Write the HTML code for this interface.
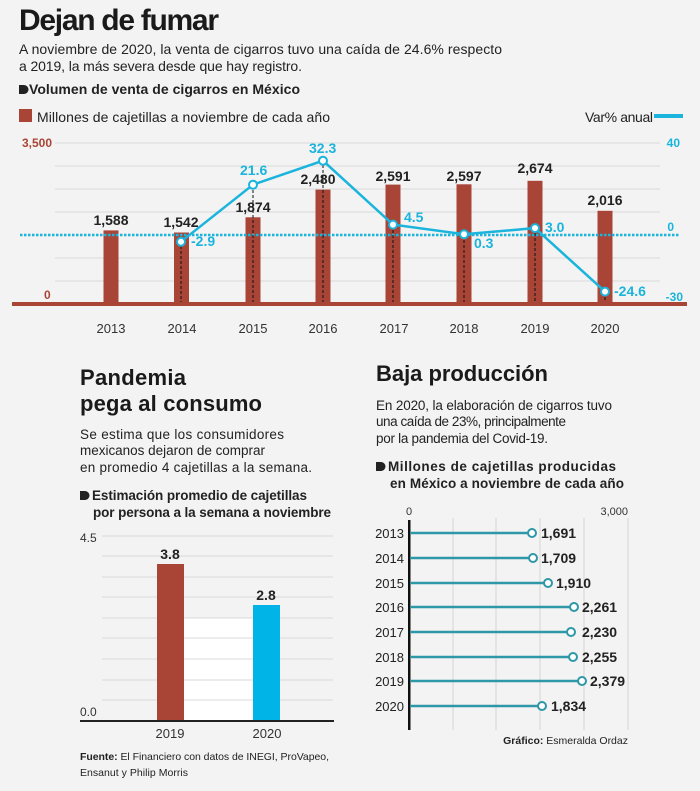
<!DOCTYPE html>
<html><head><meta charset="utf-8"><style>
body{margin:0;background:#f3f3f3}
svg{display:block;font-family:"Liberation Sans",sans-serif}
.b{font-weight:bold}
</style></head><body>
<svg width="700" height="791" viewBox="0 0 700 791" xmlns="http://www.w3.org/2000/svg">
<rect width="700" height="791" fill="#f3f3f3"/>
<text x="19" y="30" font-size="30" class="b" fill="#1a1a1a" textLength="200">Dejan de fumar</text>
<text x="19" y="54" font-size="14" fill="#222" textLength="483">A noviembre de 2020, la venta de cigarros tuvo una caída de 24.6% respecto</text>
<text x="19" y="71" font-size="14" fill="#222" textLength="283">a 2019, la más severa desde que hay registro.</text>
<path d="M19 85h5a4 4 0 0 1 0 9h-5z" fill="#222"/>
<text x="29" y="94" font-size="14" class="b" fill="#222" textLength="271">Volumen de venta de cigarros en México</text>
<rect x="19" y="109" width="13" height="13" fill="#a94536"/>
<text x="37" y="122" font-size="14" fill="#222" textLength="293">Millones de cajetillas a noviembre de cada año</text>
<text x="585" y="122" font-size="14" fill="#222" textLength="68">Var% anual</text>
<rect x="654" y="114" width="29" height="4" fill="#1ab4dc"/>
<g stroke="#d8d8d8" stroke-width="1">
<line x1="55" x2="660" y1="143" y2="143"/><line x1="55" x2="660" y1="166" y2="166"/><line x1="55" x2="660" y1="189" y2="189"/><line x1="55" x2="660" y1="212" y2="212"/><line x1="55" x2="660" y1="258" y2="258"/><line x1="55" x2="660" y1="281" y2="281"/>
</g>
<text x="22" y="147" font-size="12" class="b" fill="#a94536">3,500</text>
<text x="44" y="299" font-size="12" class="b" fill="#a94536">0</text>
<g font-size="12" class="b" fill="#1ab4dc" text-anchor="end">
<text x="680" y="147">40</text>
<text x="674" y="231">0</text>
<text x="683" y="301">-30</text>
</g>
<g fill="#a94536">
<rect x="103.5" y="230.4" width="15" height="72.6"/>
<rect x="174" y="232.5" width="15" height="70.5"/>
<rect x="245.5" y="217.3" width="15" height="85.7"/>
<rect x="315.5" y="189.6" width="15" height="113.4"/>
<rect x="385.5" y="184.6" width="15" height="118.4"/>
<rect x="456.5" y="184.3" width="15" height="118.7"/>
<rect x="527.5" y="180.8" width="15" height="122.2"/>
<rect x="597.5" y="210.8" width="15" height="92.2"/>
</g>
<rect x="12" y="302" width="675" height="4" fill="#a94536"/>
<line x1="20" x2="680" y1="235" y2="235" stroke="#1ab4dc" stroke-width="2.5" stroke-dasharray="2.5 1.5"/>
<g stroke="#111" stroke-width="1" stroke-dasharray="3 2">
<line x1="181" x2="181" y1="241" y2="302"/><line x1="253" x2="253" y1="185" y2="302"/><line x1="323" x2="323" y1="160" y2="302"/><line x1="393" x2="393" y1="225" y2="302"/><line x1="464" x2="464" y1="235" y2="302"/><line x1="535" x2="535" y1="228" y2="302"/><line x1="605" x2="605" y1="292" y2="302"/>
</g>
<polyline points="181,241.7 253,184.7 323,160.7 393,224.6 464,234.3 535,228.1 605,291.6" fill="none" stroke="#1ab4dc" stroke-width="2.5"/>
<g fill="#fff" stroke="#1ab4dc" stroke-width="2">
<circle cx="181" cy="241.7" r="4"/><circle cx="253" cy="184.7" r="4"/><circle cx="323" cy="160.7" r="4"/><circle cx="393" cy="224.6" r="4"/><circle cx="464" cy="234.3" r="4"/><circle cx="535" cy="228.1" r="4"/><circle cx="605" cy="291.6" r="4"/>
</g>
<g font-size="14" class="b" fill="#222" text-anchor="middle">
<text x="111" y="225">1,588</text><text x="181" y="227">1,542</text><text x="253" y="212">1,874</text><text x="318" y="184">2,480</text><text x="393" y="181">2,591</text><text x="464" y="181">2,597</text><text x="535" y="173">2,674</text><text x="605" y="205">2,016</text>
</g>
<g font-size="14" class="b" fill="#1ab4dc">
<text x="191" y="246">-2.9</text><text x="240" y="175" >21.6</text><text x="309" y="153">32.3</text><text x="404" y="222">4.5</text><text x="474" y="248">0.3</text><text x="545" y="232">3.0</text><text x="614" y="296">-24.6</text>
</g>
<g font-size="13" fill="#333" text-anchor="middle">
<text x="111" y="333">2013</text><text x="182" y="333">2014</text><text x="253" y="333">2015</text><text x="323" y="333">2016</text><text x="394" y="333">2017</text><text x="464" y="333">2018</text><text x="535" y="333">2019</text><text x="605" y="333">2020</text>
</g>

<!-- left -->
<text x="80" y="385" font-size="22" class="b" fill="#1a1a1a" textLength="106">Pandemia</text>
<text x="80" y="411" font-size="22" class="b" fill="#1a1a1a" textLength="182">pega al consumo</text>
<text x="80" y="439" font-size="13.5" fill="#222" textLength="204">Se estima que los consumidores</text>
<text x="80" y="455" font-size="13.5" fill="#222" textLength="185">mexicanos dejaron de comprar</text>
<text x="80" y="472" font-size="13.5" fill="#222" textLength="232">en promedio 4 cajetillas a la semana.</text>
<path d="M80 491h5a4 4 0 0 1 0 9h-5z" fill="#222"/>
<text x="92" y="500" font-size="13.5" class="b" fill="#222" textLength="215">Estimación promedio de cajetillas</text>
<text x="93" y="517" font-size="13.5" class="b" fill="#222" textLength="238">por persona a la semana a noviembre</text>
<rect x="184" y="618" width="69" height="102" fill="#fff"/>
<g stroke="#d8d8d8">
<line x1="102" x2="333" y1="536" y2="536"/><line x1="102" x2="333" y1="556" y2="556"/><line x1="102" x2="333" y1="577" y2="577"/><line x1="102" x2="333" y1="597" y2="597"/><line x1="102" x2="333" y1="618" y2="618"/><line x1="102" x2="333" y1="638" y2="638"/><line x1="102" x2="333" y1="659" y2="659"/><line x1="102" x2="333" y1="680" y2="680"/><line x1="102" x2="333" y1="700" y2="700"/>
</g>
<text x="80" y="542" font-size="12" fill="#333">4.5</text>
<text x="80" y="716" font-size="12" fill="#333">0.0</text>
<rect x="157" y="564" width="27" height="157" fill="#a94536"/>
<rect x="253" y="605" width="27" height="116" fill="#00b4e8"/>
<rect x="80" y="720" width="254" height="2" fill="#222"/>
<text x="170" y="559" font-size="14" class="b" fill="#222" text-anchor="middle">3.8</text>
<text x="266" y="600" font-size="14" class="b" fill="#222" text-anchor="middle">2.8</text>
<text x="170" y="738" font-size="13" fill="#333" text-anchor="middle">2019</text>
<text x="267" y="738" font-size="13" fill="#333" text-anchor="middle">2020</text>
<text x="80" y="760" font-size="10.5" fill="#222" textLength="249"><tspan class="b">Fuente:</tspan> El Financiero con datos de INEGI, ProVapeo,</text>
<text x="80" y="776" font-size="10.5" fill="#222" textLength="108">Ensanut y Philip Morris</text>

<!-- right -->
<text x="376" y="381" font-size="22" class="b" fill="#1a1a1a" textLength="172">Baja producción</text>
<text x="376" y="410" font-size="13.5" fill="#222" textLength="236">En 2020, la elaboración de cigarros tuvo</text>
<text x="376" y="426" font-size="13.5" fill="#222" textLength="190">una caída de 23%, principalmente</text>
<text x="376" y="443" font-size="13.5" fill="#222" textLength="172">por la pandemia del Covid-19.</text>
<path d="M376 462h5a4 4 0 0 1 0 9h-5z" fill="#222"/>
<text x="388" y="471" font-size="13.5" class="b" fill="#222" textLength="228">Millones de cajetillas producidas</text>
<text x="390" y="488" font-size="13.5" class="b" fill="#222" textLength="234">en México a noviembre de cada año</text>
<text x="409" y="515" font-size="11" fill="#333" text-anchor="middle">0</text>
<text x="628" y="515" font-size="11" fill="#333" text-anchor="end">3,000</text>
<g stroke="#d4d4d4">
<line x1="453" x2="453" y1="518" y2="730"/><line x1="496" x2="496" y1="518" y2="730"/><line x1="540" x2="540" y1="518" y2="730"/><line x1="584" x2="584" y1="518" y2="730"/><line x1="628" x2="628" y1="518" y2="730"/>
</g>
<rect x="408" y="520" width="2.5" height="210" fill="#111"/>
<g stroke="#2e97a8" stroke-width="2.5">
<line x1="410" x2="532" y1="533" y2="533"/><line x1="410" x2="533" y1="558" y2="558"/><line x1="410" x2="548" y1="583" y2="583"/><line x1="410" x2="574" y1="607" y2="607"/><line x1="410" x2="571" y1="632" y2="632"/><line x1="410" x2="573" y1="657" y2="657"/><line x1="410" x2="582" y1="681" y2="681"/><line x1="410" x2="542" y1="706" y2="706"/>
</g>
<g fill="#fff" stroke="#2e97a8" stroke-width="2">
<circle cx="532" cy="533" r="4"/><circle cx="533" cy="558" r="4"/><circle cx="548" cy="583" r="4"/><circle cx="574" cy="607" r="4"/><circle cx="571" cy="632" r="4"/><circle cx="573" cy="657" r="4"/><circle cx="582" cy="681" r="4"/><circle cx="542" cy="706" r="4"/>
</g>
<g font-size="13" fill="#222" text-anchor="end">
<text x="404" y="538">2013</text><text x="404" y="563">2014</text><text x="404" y="588">2015</text><text x="404" y="612">2016</text><text x="404" y="637">2017</text><text x="404" y="662">2018</text><text x="404" y="686">2019</text><text x="404" y="711">2020</text>
</g>
<g font-size="14" class="b" fill="#222">
<text x="541" y="538">1,691</text><text x="541" y="563">1,709</text><text x="556" y="588">1,910</text><text x="582" y="612">2,261</text><text x="582" y="637">2,230</text><text x="582" y="662">2,255</text><text x="590" y="686">2,379</text><text x="551" y="711">1,834</text>
</g>
<text x="628" y="744" font-size="10.5" fill="#222" text-anchor="end"><tspan class="b">Gráfico:</tspan> Esmeralda Ordaz</text>
</svg>
</body></html>
